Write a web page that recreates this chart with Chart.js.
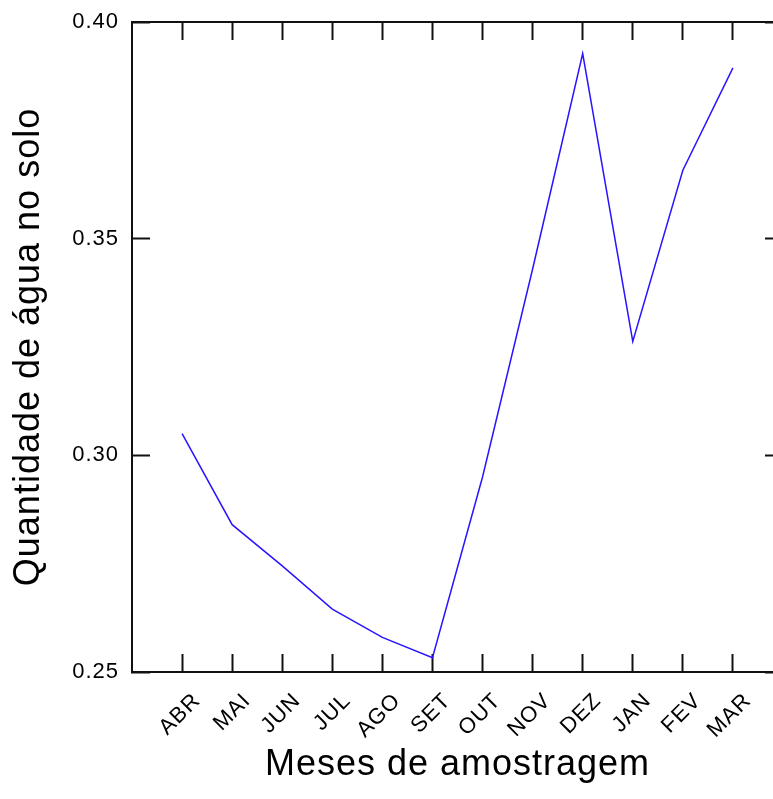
<!DOCTYPE html>
<html>
<head>
<meta charset="utf-8">
<script src="https://cdn.jsdelivr.net/npm/chart.js@4.4.0/dist/chart.umd.min.js"></script>
<style>
  html, body { margin: 0; padding: 0; background: #fff; overflow: hidden; }
  .wrap { width: 790px; height: 799px; }
</style>
</head>
<body>
<div class="wrap"><canvas id="agua-solo"></canvas></div>
<script>
const meses = ["ABR", "MAI", "JUN", "JUL", "AGO", "SET", "OUT", "NOV", "DEZ", "JAN", "FEV", "MAR"];
const agua = [0.305, 0.284, 0.2745, 0.2645, 0.258, 0.2533, 0.295, 0.343, 0.3927, 0.3263, 0.3658, 0.3894];
const yTicks = [0.25, 0.30, 0.35, 0.40];

Chart.defaults.font.family = "'Liberation Sans', Arial, sans-serif";

// a little extra letter spacing, like the old bitmap font
const espacamento = {
    id: "espacamento",
    beforeDraw(chart) {
        chart.ctx.letterSpacing = "1px";
    }
};

// tick marks point inward on every side of the frame
const grade = { drawOnChartArea: false, tickLength: -18, tickWidth: 2, tickColor: "#111" };
const borda = { color: "#111", width: 2 };
const ticksMeses = (axis) => { axis.ticks = meses.map((m, i) => ({ value: i })); };
const ticksAgua = (axis) => { axis.ticks = yTicks.map((v) => ({ value: v })); };

// fixed box sizes; label overhang must not push the plot area around
const tamanho = (w, h) => (axis) => {
    if (w !== null) axis.width = w;
    if (h !== null) axis.height = h;
    axis.paddingTop = 0;
    axis.paddingBottom = 0;
    axis.paddingLeft = 0;
    axis.paddingRight = 0;
};

new Chart(document.getElementById("agua-solo"), {
    type: "line",
    data: {
        datasets: [
            {
                label: "Quantidade de água no solo",
                data: agua.map((v, i) => ({ x: i, y: v })),
                borderColor: "#2a14ff",
                borderWidth: 1.5,
                pointRadius: 0,
                tension: 0,
                fill: false,
            },
        ],
    },
    options: {
        responsive: true,
        maintainAspectRatio: false,
        animation: false,
        devicePixelRatio: 1,
        layout: { padding: { top: 22, right: 7, bottom: 0, left: 0 } },
        plugins: {
            legend: { display: false },
            tooltip: { enabled: false },
        },
        scales: {
            x: {
                type: "linear",
                position: "bottom",
                min: -1,
                max: 12,
                afterBuildTicks: ticksMeses,
                afterFit: tamanho(null, 127),
                ticks: {
                    autoSkip: false,
                    minRotation: 45,
                    maxRotation: 45,
                    padding: 34,
                    labelOffset: 15,
                    color: "#000",
                    font: { size: 22 },
                    callback: (v) => meses[v],
                },
                grid: grade,
                border: borda,
                title: {
                    display: true,
                    text: "Meses de amostragem",
                    color: "#000",
                    font: { size: 36 },
                    padding: { top: 0, bottom: 12 },
                },
            },
            xTopo: {
                type: "linear",
                position: "top",
                min: -1,
                max: 12,
                afterBuildTicks: ticksMeses,
                afterFit: tamanho(null, 0),
                ticks: { display: false },
                grid: grade,
                border: borda,
            },
            y: {
                type: "linear",
                position: "left",
                min: 0.25,
                max: 0.40,
                afterBuildTicks: ticksAgua,
                afterFit: tamanho(132, null),
                ticks: {
                    padding: 31,
                    color: "#000",
                    font: { size: 22 },
                    callback: (v) => v.toFixed(2),
                },
                grid: grade,
                border: borda,
                title: {
                    display: true,
                    text: "Quantidade de água no solo",
                    color: "#000",
                    font: { size: 36 },
                    padding: { top: 7, bottom: 0 },
                },
            },
            yDir: {
                type: "linear",
                position: "right",
                min: 0.25,
                max: 0.40,
                afterBuildTicks: ticksAgua,
                afterFit: tamanho(0, null),
                ticks: { display: false },
                grid: grade,
                border: borda,
            },
        },
    },
    plugins: [espacamento],
});
</script>
</body>
</html>
